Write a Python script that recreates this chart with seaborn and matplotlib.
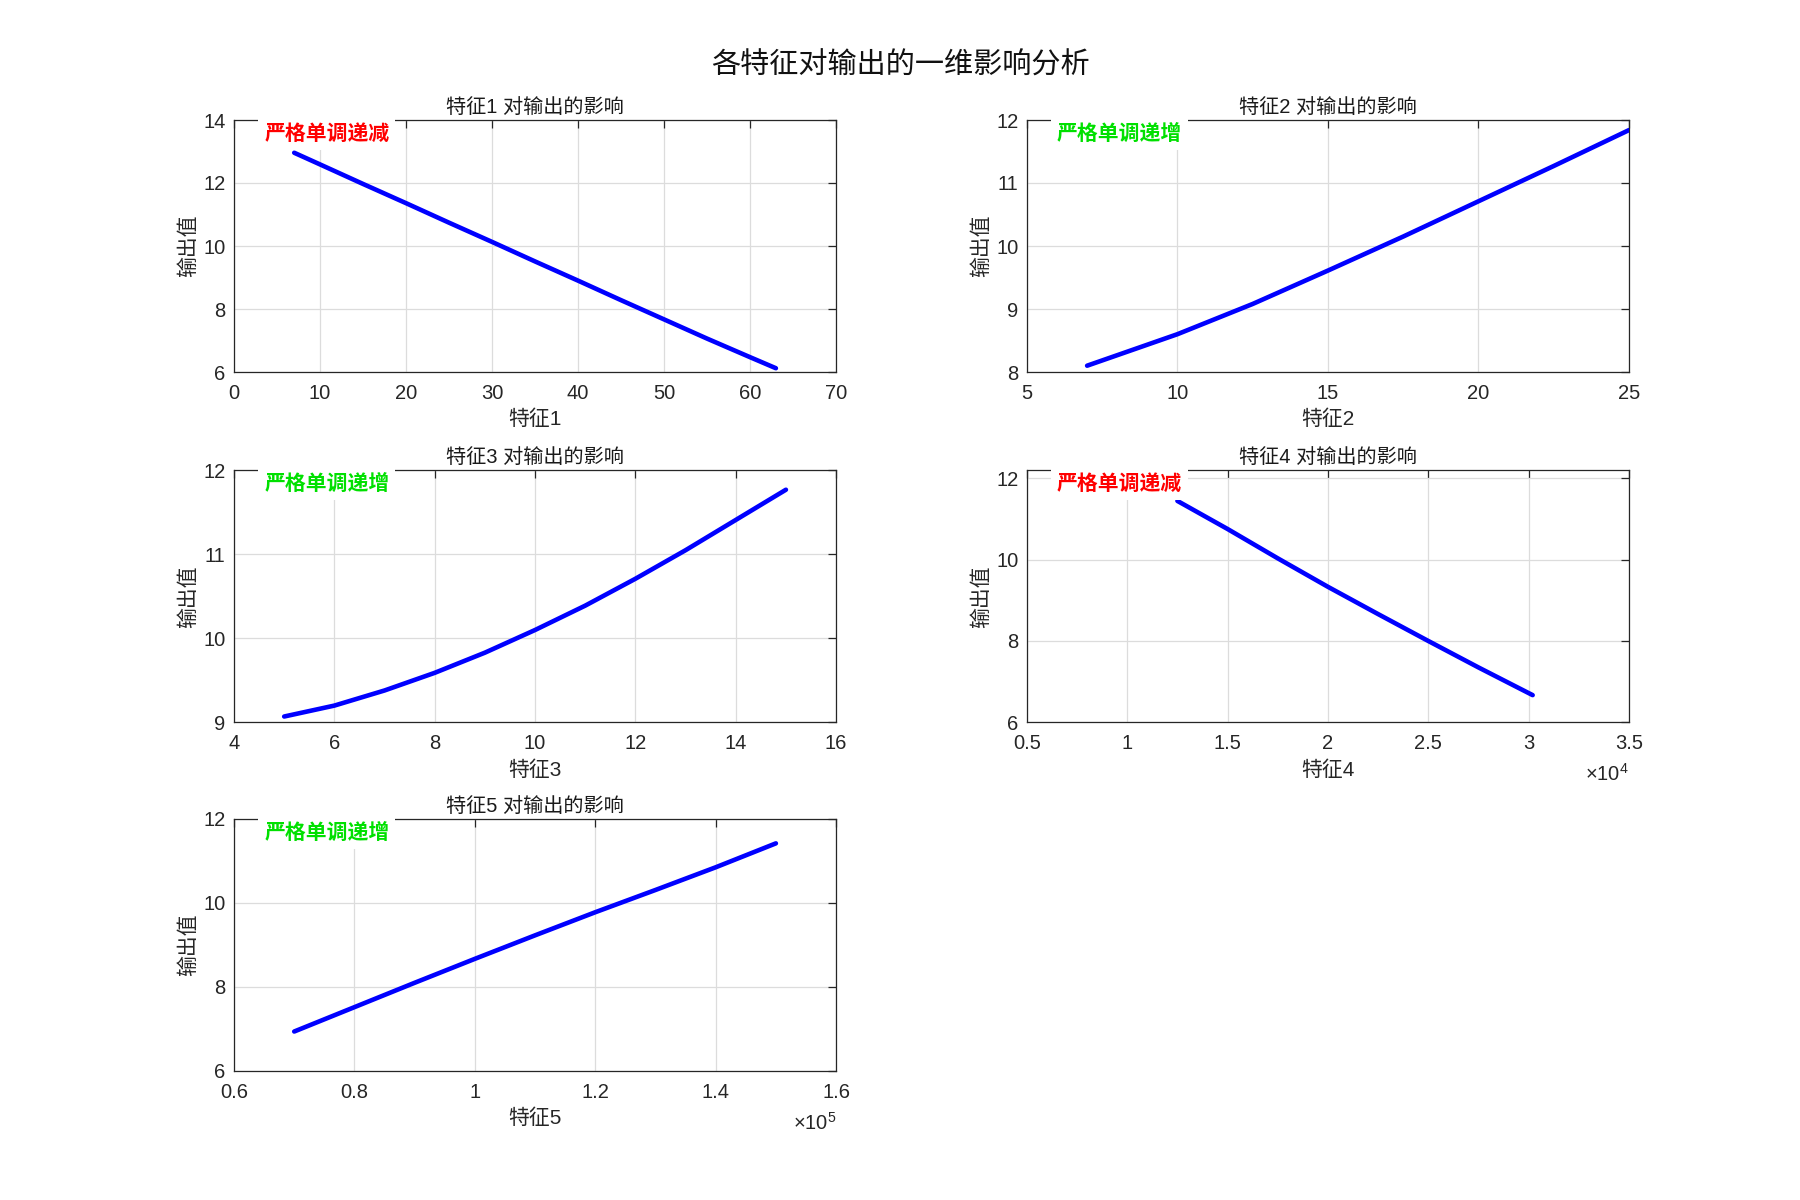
import numpy as np
import pandas as pd
import matplotlib
matplotlib.use('Agg')
import matplotlib.pyplot as plt
import seaborn as sns
from matplotlib.ticker import MultipleLocator, FuncFormatter

# ------------------------------------------------------------
# values (one-dimensional response curves)
# ------------------------------------------------------------
feat_names = ['特征1', '特征2', '特征3', '特征4', '特征5']
trend_labels = ['严格单调递减', '严格单调递增', '严格单调递增', '严格单调递减', '严格单调递增']
trend_colors = ['#ff0000', '#00e000', '#00e000', '#ff0000', '#00e000']

f1_x = [7, 10, 15, 20, 25, 30, 35, 40, 45, 50, 55, 60, 63]
f1_y = [12.96, 12.59, 11.97, 11.36, 10.74, 10.13, 9.51, 8.90, 8.28, 7.67, 7.06, 6.47, 6.12]

f2_x = [7, 10, 12.5, 15, 17.5, 20, 22.5, 25]
f2_y = [8.10, 8.60, 9.08, 9.61, 10.15, 10.71, 11.27, 11.84]

f3_x = [5, 6, 7, 8, 9, 10, 11, 12, 13, 14, 15]
f3_y = [9.07, 9.20, 9.38, 9.59, 9.83, 10.10, 10.39, 10.71, 11.05, 11.41, 11.77]

f4_x = [12500, 15000, 17500, 20000, 22500, 25000, 27500, 30000, 30200]
f4_y = [11.44, 10.75, 10.03, 9.33, 8.66, 8.00, 7.35, 6.72, 6.67]

f5_x = [70000, 80000, 90000, 100000, 110000, 120000, 130000, 140000, 150000]
f5_y = [6.94, 7.52, 8.10, 8.67, 9.23, 9.78, 10.31, 10.85, 11.42]

curves = [(f1_x, f1_y), (f2_x, f2_y), (f3_x, f3_y), (f4_x, f4_y), (f5_x, f5_y)]

# axis settings as in the reference
x_limits = [(0, 70), (5, 25), (4, 16), (5000, 35000), (60000, 160000)]
y_limits = [(6, 14), (8, 12), (9, 12), (6, 12.19), (6, 12)]
x_steps = [10, 5, 2, 5000, 20000]
y_steps = [2, 1, 1, 2, 2]
x_exponent = [0, 0, 0, 4, 5]

# ------------------------------------------------------------
# style
# ------------------------------------------------------------
sns.set_style('white')
plt.rcParams['font.family'] = ['Liberation Sans', 'Noto Sans CJK SC', 'DejaVu Sans']
plt.rcParams['axes.unicode_minus'] = False
plt.rcParams['mathtext.fontset'] = 'custom'
plt.rcParams['mathtext.rm'] = 'Liberation Sans'
plt.rcParams['mathtext.it'] = 'Liberation Sans'

fig = plt.figure(figsize=(18, 12), dpi=100)
fig.patch.set_facecolor('white')

# MATLAB-like subplot(3,2,k) positions
col_left = [0.130, 0.5705]
row_bottom = [0.690, 0.398, 0.1075]
ax_w, ax_h = 0.3345, 0.210

for k, (name, (xs, ys)) in enumerate(zip(feat_names, curves)):
    r, c = divmod(k, 2)
    ax = fig.add_axes([col_left[c], row_bottom[r], ax_w, ax_h])

    df = pd.DataFrame({'x': xs, 'y': ys})
    sns.lineplot(data=df, x='x', y='y', ax=ax, color='#0000ff', lw=3.3, zorder=3)

    ax.set_xlim(*x_limits[k])
    ax.set_ylim(*y_limits[k])
    ax.xaxis.set_major_locator(MultipleLocator(x_steps[k]))
    ax.yaxis.set_major_locator(MultipleLocator(y_steps[k]))
    scale = 10 ** x_exponent[k]
    ax.xaxis.set_major_formatter(FuncFormatter(lambda v, p, s=scale: '%g' % round(v / s, 6)))
    ax.yaxis.set_major_formatter(FuncFormatter(lambda v, p: '%g' % v))

    ax.grid(True, color='#dcdcdc', lw=0.9)
    ax.set_axisbelow(True)
    ax.tick_params(direction='in', top=True, right=True, length=6, width=0.9,
                   color='#262626', labelcolor='#262626', labelsize=14.5)
    ax.tick_params(axis='x', pad=8.5)
    ax.tick_params(axis='y', pad=6)
    for sp in ax.spines.values():
        sp.set_color('#262626')
        sp.set_linewidth(0.9)
        sp.set_visible(True)

    ax.set_title(f'{name} 对输出的影响', fontsize=14.5, pad=5, color='#1a1a1a')
    ax.set_xlabel(name, fontsize=15, labelpad=5, color='#262626')
    ax.set_ylabel('输出值', fontsize=15, labelpad=4, color='#262626')

    if x_exponent[k]:
        ax.text(1.0, -0.205, r'$\times10^{%d}$' % x_exponent[k], transform=ax.transAxes,
                ha='right', va='center', fontsize=14.5, color='#262626')

    ax.text(0.05, 0.947, trend_labels[k], transform=ax.transAxes, color=trend_colors[k],
            fontsize=15, fontweight='bold', ha='left', va='center', zorder=6,
            family=['Noto Sans CJK SC'],
            bbox=dict(facecolor='white', edgecolor='none', boxstyle='square,pad=0.28'))

fig.suptitle('各特征对输出的一维影响分析', fontsize=21, y=0.945, va='center', color='#111111')

plt.savefig('out.png', dpi=100, facecolor='white')
plt.close()
